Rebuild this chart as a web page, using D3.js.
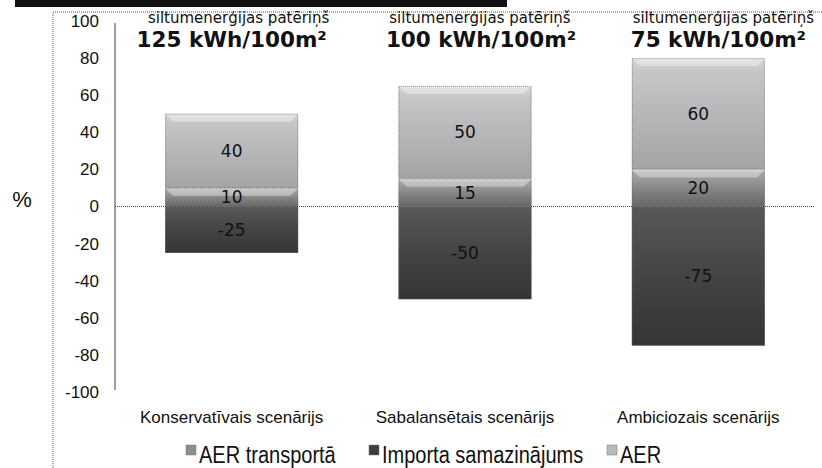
<!DOCTYPE html>
<html>
<head>
<meta charset="utf-8">
<script src="https://cdn.jsdelivr.net/npm/d3@7"></script>
<style>
  body { margin: 0; background: #fff; }
  svg { display: block; }
  .tick text { font-family: "Liberation Sans", Arial, sans-serif; font-size: 17px; fill: #111; }
  .cat { font-family: "Liberation Sans", Arial, sans-serif; font-size: 17px; fill: #111; }
  .leg { font-family: "Liberation Sans", Arial, sans-serif; font-size: 23px; fill: #111; }
  .lbl { font-family: "DejaVu Sans", Verdana, sans-serif; font-size: 17px; fill: #111; }
  .ann { font-family: "DejaVu Sans", Verdana, sans-serif; font-size: 15px; fill: #111; }
  .annB { font-family: "DejaVu Sans", Verdana, sans-serif; font-size: 21.5px; font-weight: bold; fill: #111; }
</style>
</head>
<body>
<div id="chart"></div>
<script>
// datos
const categories = ["Konservatīvais scenārijs", "Sabalansētais scenārijs", "Ambiciozais scenārijs"];
const aerTransports = [10, 15, 20];
const importaSamaz = [-25, -50, -75];
const aer = [40, 50, 60];
const consumption = ["125 kWh/100m²", "100 kWh/100m²", "75 kWh/100m²"];
const consumptionLabel = "siltumenerģijas patēriņš";
const yTicks = [100, 80, 60, 40, 20, 0, -20, -40, -60, -80, -100];
const seriesNames = ["AER transportā", "Importa samazinājums", "AER"];

const W = 822, H = 468;
const svg = d3.select("#chart").append("svg").attr("width", W).attr("height", H);

// gradientes de cada serie
const defs = svg.append("defs");
const grads = {
  transp: [["0%", "#e2e2e0"], ["8%", "#a8a8a6"], ["60%", "#80807e"], ["100%", "#666664"]],
  imp: [["0%", "#5a5856"], ["50%", "#454442"], ["100%", "#343434"]],
  aer: [["0%", "#d6d8da"], ["12%", "#c4c6c8"], ["100%", "#a2a4a6"]]
};
Object.entries(grads).forEach(([k, stops]) => {
  const g = defs.append("linearGradient").attr("id", "g_" + k).attr("x1", 0).attr("y1", 0).attr("x2", 0).attr("y2", 1);
  stops.forEach(s => g.append("stop").attr("offset", s[0]).attr("stop-color", s[1]));
});
const seriesFill = ["url(#g_transp)", "url(#g_imp)", "url(#g_aer)"];
const legendFill = ["#8e8e8c", "#3e3e3e", "#b8babc"];

// mancha negra del escaneo y marco punteado
svg.append("rect").attr("x", 15).attr("y", 0).attr("width", 492).attr("height", 7).attr("fill", "#111");
svg.append("path")
  .attr("d", `M53,${H} V12 H${W}`)
  .attr("fill", "none").attr("stroke", "#555").attr("stroke-dasharray", "1,1");

// escaladores
const x = d3.scaleBand().domain(categories).range([115, 815]).paddingInner(0.43).paddingOuter(0.215);
const y = d3.scaleLinear().domain([-100, 100]).range([392, 21]);

// linea cero punteada
svg.append("line")
  .attr("x1", 115).attr("x2", 814).attr("y1", y(0)).attr("y2", y(0))
  .attr("stroke", "#444").attr("stroke-dasharray", "1,1");

// eje y
const yAxis = svg.append("g").attr("transform", "translate(115,0)")
  .call(d3.axisLeft(y).tickValues(yTicks).tickSize(0).tickPadding(16).tickFormat(d => String(d)));
yAxis.select(".domain").attr("stroke", "#3a3f55").attr("d", `M0,${y(100) + 2}V${y(-100) - 2}`);

svg.append("text").attr("x", 22).attr("y", 207).attr("text-anchor", "middle")
  .attr("font-family", "Liberation Sans, Arial, sans-serif").attr("font-size", 22).attr("fill", "#111").text("%");

// segmentos apilados
const segs = [];
categories.forEach((c, i) => {
  segs.push({ c, s: 0, y0: 0, y1: aerTransports[i], v: aerTransports[i] });
  segs.push({ c, s: 1, y0: importaSamaz[i], y1: 0, v: importaSamaz[i] });
  segs.push({ c, s: 2, y0: aerTransports[i], y1: aerTransports[i] + aer[i], v: aer[i] });
});

const gBars = svg.append("g");
gBars.selectAll("rect.seg").data(segs).enter().append("rect")
  .attr("class", "seg")
  .attr("x", d => x(d.c))
  .attr("y", d => y(d.y1))
  .attr("width", x.bandwidth())
  .attr("height", d => y(d.y0) - y(d.y1))
  .attr("fill", d => seriesFill[d.s]);

// bisel superior
gBars.selectAll("path.bev").data(segs.filter(d => d.s !== 1)).enter().append("path")
  .attr("class", "bev")
  .attr("d", d => {
    const x0 = x(d.c), x1 = x0 + x.bandwidth(), t = y(d.y1);
    return `M${x0},${t}L${x0 + 8},${t + 8}H${x1 - 8}L${x1},${t}Z`;
  })
  .attr("fill", "#fff").attr("opacity", 0.35);
gBars.selectAll("rect.outl").data(segs).enter().append("rect")
  .attr("class", "outl")
  .attr("x", d => x(d.c) + 0.5)
  .attr("y", d => y(d.y1) + 0.5)
  .attr("width", x.bandwidth() - 1)
  .attr("height", d => y(d.y0) - y(d.y1) - 1)
  .attr("fill", "none").attr("stroke", "#666").attr("stroke-dasharray", "1,1").attr("opacity", 0.6);

// etiquetas de valores
gBars.selectAll("text.lbl").data(segs).enter().append("text")
  .attr("class", "lbl")
  .attr("x", d => x(d.c) + x.bandwidth() / 2)
  .attr("y", d => y((d.y0 + d.y1) / 2) + 6)
  .attr("text-anchor", "middle")
  .text(d => d.v);

// categorias
svg.selectAll("text.cat").data(categories).enter().append("text")
  .attr("class", "cat")
  .attr("x", d => x(d) + x.bandwidth() / 2)
  .attr("y", 423)
  .attr("text-anchor", "middle")
  .text(d => d);

// anotaciones superiores
const annShift = [7, 15, 25];
const annShiftB = [0, 16, 20];
svg.selectAll("text.ann").data(categories).enter().append("text")
  .attr("class", "ann")
  .attr("x", (d, i) => x(d) + x.bandwidth() / 2 + annShift[i])
  .attr("y", 23)
  .attr("text-anchor", "middle")
  .text(consumptionLabel);
svg.selectAll("text.annB").data(categories).enter().append("text")
  .attr("class", "annB")
  .attr("x", (d, i) => x(d) + x.bandwidth() / 2 + annShiftB[i])
  .attr("y", 47)
  .attr("text-anchor", "middle")
  .text((d, i) => consumption[i]);

// leyenda (texto estrechado como Calibri)
const legX = [186, 369, 607];
const leg = svg.selectAll("g.leg").data(seriesNames).enter().append("g")
  .attr("transform", (d, i) => `translate(${legX[i]},445)`);
leg.append("rect").attr("width", 10).attr("height", 10)
  .attr("fill", (d, i) => legendFill[i]).attr("stroke", "#777").attr("stroke-width", 0.5);
leg.append("text").attr("class", "leg")
  .attr("transform", "translate(13,18) scale(0.87,1)")
  .text(d => d);
</script>
</body>
</html>
